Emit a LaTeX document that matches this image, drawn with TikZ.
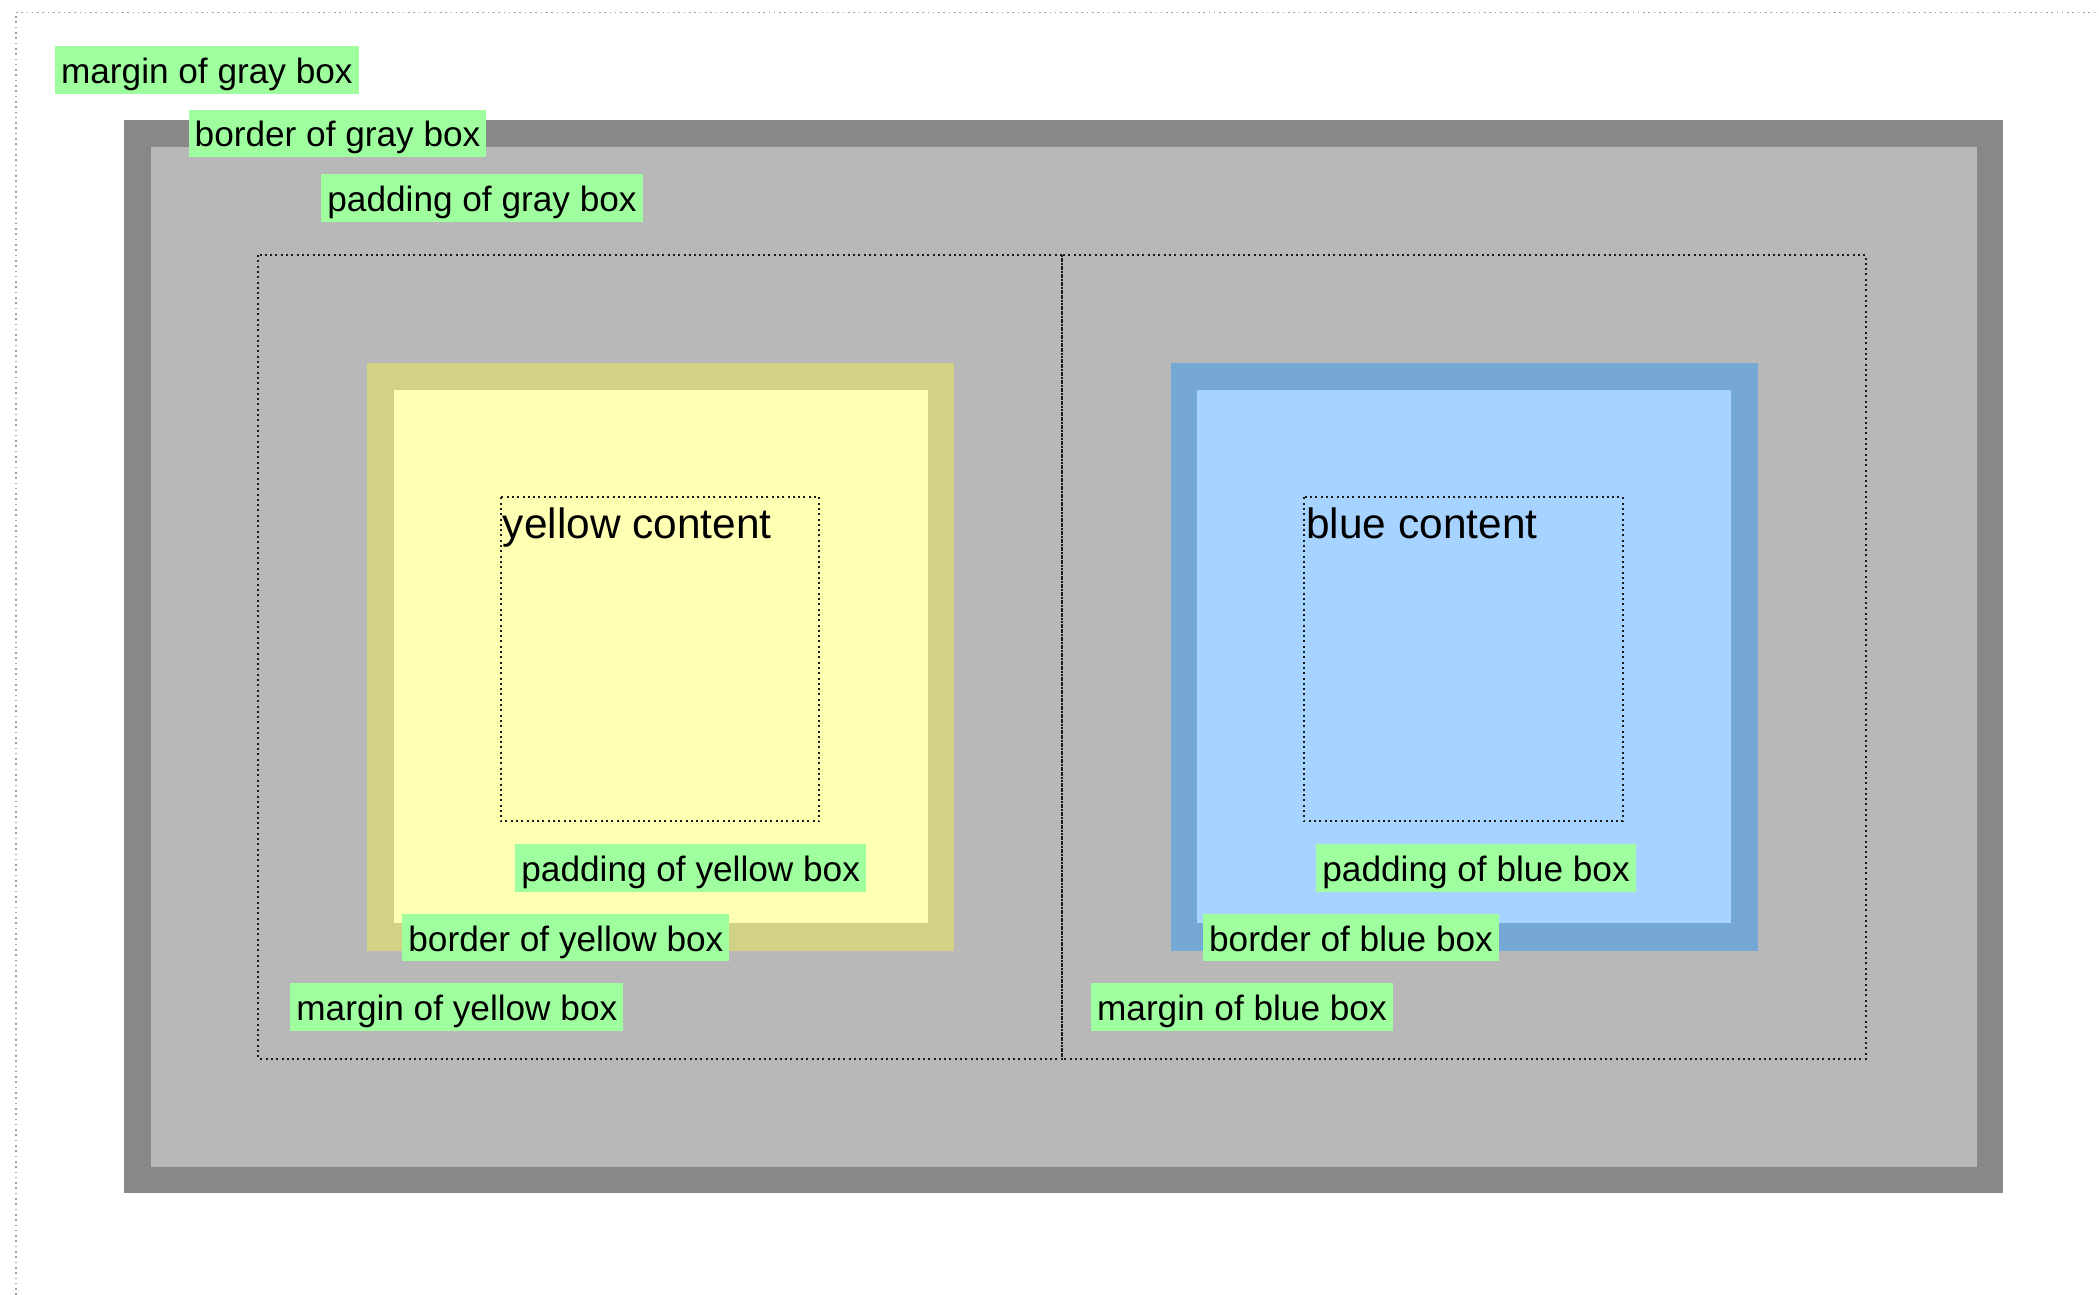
\documentclass[tikz,border=0pt]{standalone}
\usepackage{fontspec}
\setmainfont{Liberation Sans}
\definecolor{graybd}{HTML}{888888}
\definecolor{graypd}{HTML}{B8B8B8}
\definecolor{yelbd}{HTML}{D3D184}
\definecolor{yelpd}{HTML}{FFFFB4}
\definecolor{bluebd}{HTML}{76A8D6}
\definecolor{bluepd}{HTML}{A6D3FF}
\definecolor{lblgreen}{HTML}{9FFF9F}
\definecolor{framegray}{HTML}{A0A0A0}
\definecolor{dotdark}{HTML}{1A1A1A}
\tikzset{
  lbl/.style={fill=lblgreen, anchor=north west, inner xsep=3pt, inner ysep=0pt,
    text height=18.65pt, text depth=5.2pt, font=\fontsize{17.6pt}{20pt}\selectfont, text=black},
  dotline/.style={draw=dotdark, line width=1pt, dash pattern=on 1pt off 1.65pt},
  framedot/.style={draw=framegray, line width=0.8pt, dash pattern=on 0.8pt off 1.85pt},
  contenttext/.style={anchor=base west, inner sep=0pt, font=\fontsize{21.2pt}{24pt}\selectfont, text=black}
}
\begin{document}
\begin{tikzpicture}[x=0.5pt,y=-0.5pt]
\useasboundingbox (0,0) rectangle (2099,1295);
\fill[white] (0,0) rectangle (2099,1295);
% outer frame (page)
\coordinate (fbl) at (15.7,1295);
\coordinate (ftl) at (15.7,12.7);
\coordinate (ftr) at (2099,12.7);
\draw[framedot] (fbl) -- (ftl) -- (ftr);
% gray box
\fill[graybd] (124,120) rectangle (2003.3,1193.3);
\fill[graypd] (150.7,147.3) rectangle (1976.7,1166.7);
% container cells
\draw[dotline] (258.3,255) rectangle (1062.3,1058.5);
\draw[dotline] (1062.3,255) rectangle (1866,1058.5);
% yellow box
\fill[yelbd] (367.3,363.3) rectangle (954.3,950.7);
\fill[yelpd] (394,390) rectangle (927.7,923.3);
\draw[dotline] (500.7,497.3) rectangle (819.3,821.3);
% blue box
\fill[bluebd] (1170.7,363.3) rectangle (1757.7,950.7);
\fill[bluepd] (1197.3,390) rectangle (1731,923.3);
\draw[dotline] (1304.1,497.3) rectangle (1622.7,821.3);
% content texts
\node[contenttext] (yc) at (502.5,538) {yellow content};
\node[contenttext] (bc) at (1306,538) {blue content};
% labels
\node[lbl] (mg) at (54.7,46) {margin of gray box};
\node[lbl] (bg) at (188.3,109.3) {border of gray box};
\node[lbl] (pg) at (321,174) {padding of gray box};
\node[lbl] (py) at (515,843.7) {padding of yellow box};
\node[lbl] (by) at (402,913.3) {border of yellow box};
\node[lbl] (my) at (290,982.7) {margin of yellow box};
\node[lbl] (pb) at (1316,843.7) {padding of blue box};
\node[lbl] (bb) at (1202.7,913.3) {border of blue box};
\node[lbl] (mb) at (1090.7,983) {margin of blue box};
\end{tikzpicture}
\end{document}
